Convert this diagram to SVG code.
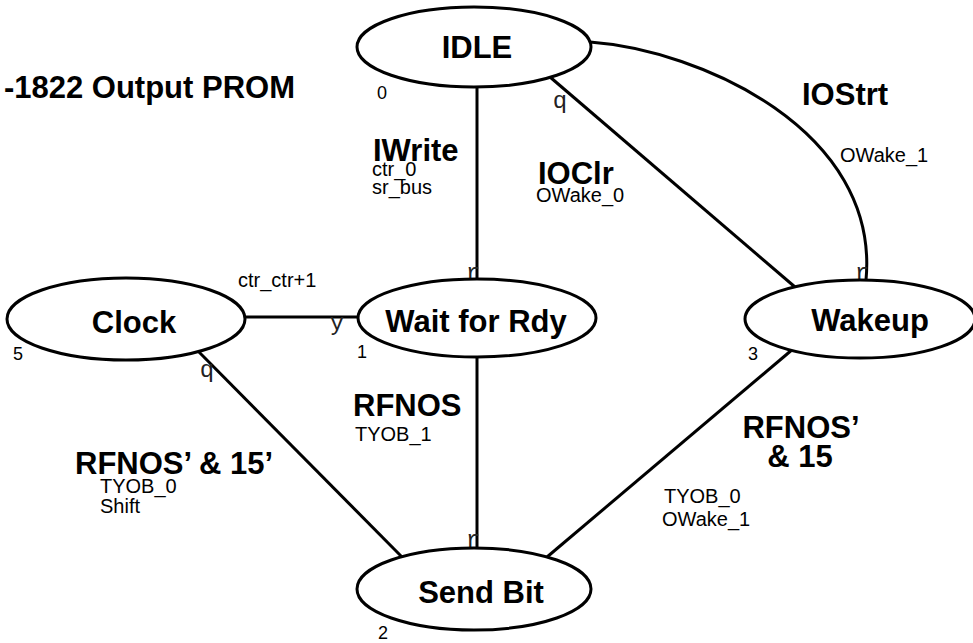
<svg xmlns="http://www.w3.org/2000/svg" width="973" height="643" viewBox="0 0 973 643">
<style>
.node{fill:#fff;stroke:#000;stroke-width:3}
.edge{fill:none;stroke:#000;stroke-width:3}
.nl{font-family:"Liberation Sans",Arial,sans-serif;font-weight:bold;font-size:31px;text-anchor:middle;fill:#000}
.bl{font-family:"Liberation Sans",Arial,sans-serif;font-weight:bold;font-size:31px;fill:#000}
.sl{font-family:"Liberation Sans",Arial,sans-serif;font-size:20px;fill:#000}
.num{font-family:"Liberation Sans",Arial,sans-serif;font-size:18px;text-anchor:middle;fill:#000}
.pt{font-family:"Liberation Mono","Courier New",monospace;font-size:24px;text-anchor:middle;fill:#222}
</style>
<rect width="973" height="643" fill="#fff"/>
<text class="bl" x="295" y="98" text-anchor="end">-1822 Output PROM</text>
<g id="connectors">
<line class="edge" x1="477" y1="87" x2="477" y2="279"/>
<line class="edge" x1="550" y1="77" x2="795" y2="287"/>
<path class="edge" d="M590,42 C700,50 880,130 866,280"/>
<line class="edge" x1="245" y1="317" x2="358" y2="317"/>
<line class="edge" x1="477" y1="357" x2="477" y2="548"/>
<line class="edge" x1="197" y1="350" x2="402" y2="557"/>
<line class="edge" x1="793" y1="349" x2="547" y2="557"/>
<text class="pt" x="560" y="108">q</text>
<text class="pt" x="473" y="280">r</text>
<text class="pt" x="862" y="280">r</text>
<text class="pt" x="337" y="330">y</text>
<text class="pt" x="207" y="377">q</text>
<text class="pt" x="473" y="547">r</text>
<text class="bl" x="373" y="161">IWrite</text>
<text class="sl" x="372" y="176">ctr_0</text>
<text class="sl" x="372" y="194">sr_bus</text>
<text class="bl" x="538" y="184">IOClr</text>
<text class="sl" x="536" y="202">OWake_0</text>
<text class="bl" x="802" y="105">IOStrt</text>
<text class="sl" x="840" y="162">OWake_1</text>
<text class="sl" x="238" y="287">ctr_ctr+1</text>
<text class="bl" x="353" y="416">RFNOS</text>
<text class="sl" x="355" y="441">TYOB_1</text>
<text class="bl" x="75" y="474">RFNOS’ &amp; 15’</text>
<text class="sl" x="100" y="493">TYOB_0</text>
<text class="sl" x="100" y="513">Shift</text>
<text class="nl" x="801" y="438">RFNOS’</text>
<text class="nl" x="800" y="467">&amp; 15</text>
<text class="sl" x="664" y="503">TYOB_0</text>
<text class="sl" x="662" y="526">OWake_1</text>
</g>
<g id="node-idle">
<ellipse class="node" cx="474" cy="47" rx="117" ry="40"/>
<text class="nl" x="477" y="58">IDLE</text>
<text class="num" x="382" y="99">0</text>
</g>
<g id="node-wait">
<ellipse class="node" cx="477" cy="318" rx="119" ry="39"/>
<text class="nl" x="476" y="332">Wait for Rdy</text>
<text class="num" x="362" y="358">1</text>
</g>
<g id="node-clock">
<ellipse class="node" cx="126" cy="319" rx="119" ry="41"/>
<text class="nl" x="134" y="333">Clock</text>
<text class="num" x="18" y="360">5</text>
</g>
<g id="node-wakeup">
<ellipse class="node" cx="860" cy="319" rx="115" ry="39"/>
<text class="nl" x="870" y="331">Wakeup</text>
<text class="num" x="753" y="360">3</text>
</g>
<g id="node-sendbit">
<ellipse class="node" cx="474" cy="589" rx="117" ry="41"/>
<text class="nl" x="481" y="603">Send Bit</text>
<text class="num" x="383" y="639">2</text>
</g>
</svg>
